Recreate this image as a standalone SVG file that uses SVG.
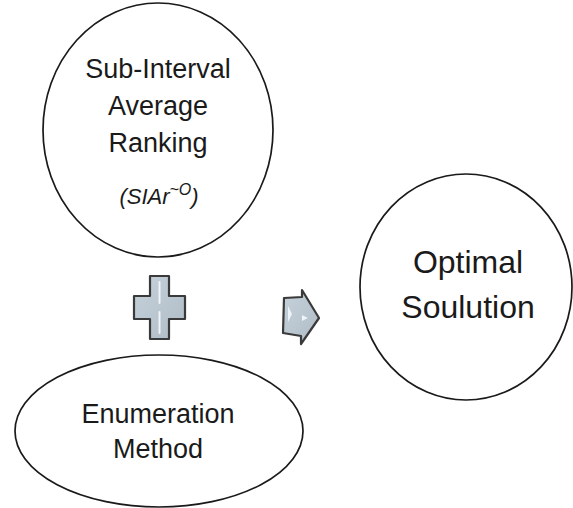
<svg xmlns="http://www.w3.org/2000/svg" width="573" height="508" viewBox="0 0 573 508">
  <style>
    .node { fill: #ffffff; stroke: #1a1a1a; stroke-width: 1.7; }
    .label { font-family: "Liberation Sans", Arial, sans-serif; fill: #1a1a1a; text-anchor: middle; }
    .sym { fill: url(#steel); stroke: #3a3a3a; stroke-width: 2.2; stroke-linejoin: round; }
    .shine { stroke: #eef4f8; stroke-width: 2; stroke-linecap: round; fill: none; }
  </style>
  <defs>
    <linearGradient id="steel" x1="0" y1="0" x2="1" y2="1">
      <stop offset="0" stop-color="#c7d2da"/>
      <stop offset="1" stop-color="#aebcc7"/>
    </linearGradient>
  </defs>
  <rect width="573" height="508" fill="#ffffff"/>

  <g id="siar">
    <ellipse class="node" cx="158" cy="130" rx="115" ry="127"/>
    <text class="label" x="158" y="78" font-size="27">Sub-Interval</text>
    <text class="label" x="158" y="115" font-size="27">Average</text>
    <text class="label" x="158" y="152" font-size="27">Ranking</text>
    <text class="label" x="159" y="204" font-size="22" font-style="italic">(SIAr<tspan font-size="16" dy="-9">~O</tspan><tspan dy="9">)</tspan></text>
  </g>

  <g id="enumeration">
    <ellipse class="node" cx="159" cy="431" rx="144" ry="76"/>
    <text class="label" x="158" y="423" font-size="27">Enumeration</text>
    <text class="label" x="158" y="458" font-size="27">Method</text>
  </g>

  <g id="optimal">
    <ellipse class="node" cx="466" cy="287" rx="106" ry="113"/>
    <text class="label" x="468" y="273" font-size="32">Optimal</text>
    <text class="label" x="468" y="318" font-size="32">Soulution</text>
  </g>

  <g id="connectors">
    <!-- plus sign joining the two methods -->
    <path class="sym" d="M150,276 H169 V296 H185 V319 H169 V339 H150 V319 H134 V296 H150 Z"/>
    <path class="shine" d="M159.5,282 V303 M159.5,312 V333"/>
    <!-- block arrow pointing to the result -->
    <path class="sym" d="M284,298 L302,297 L302,290 L319,318 L301,344 L301,336 L283,333 Z"/>
    <path d="M288,306 L292,314 L288,322 Z M302,315 L308,318 L302,321 Z" fill="#eef4f8"/>
  </g>
</svg>
